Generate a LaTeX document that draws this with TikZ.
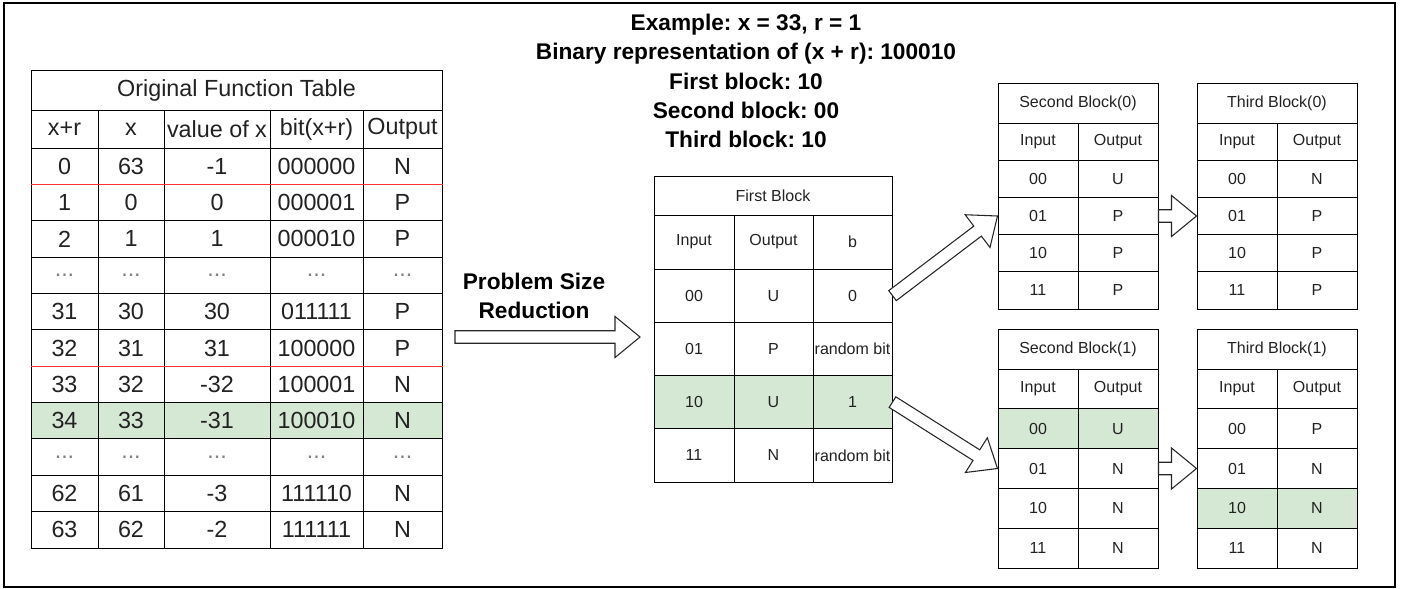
\documentclass[tikz,border=0pt]{standalone}
\usepackage{fontspec}
\setmainfont{Liberation Sans}
\usetikzlibrary{calc}
\frenchspacing

\definecolor{hlgreen}{HTML}{D5E8D4}
\definecolor{splitred}{HTML}{FF3333}
\definecolor{inktext}{HTML}{222222}

\tikzset{
  cellbox/.style={draw=black, line width=0.75pt, inner sep=0pt, text=inktext, anchor=center},
  bigcell/.style={cellbox, font=\fontsize{17.5}{20}\selectfont},
  smallcell/.style={cellbox, font=\fontsize{12}{14}\selectfont},
  fatarrowline/.style={draw=black!85, line width=0.8pt, fill=white, line join=miter},
  headline/.style={font=\fontsize{17}{21.9}\selectfont\bfseries, align=center, text=black},
  frameline/.style={draw=black, line width=1.1pt},
  splitline/.style={draw=splitred, line width=0.75pt},
}

% a table cell given by its corners (in px units): [style]{name}{x1}{y1}{x2}{y2}{text}
\newcommand{\cellnode}[7][]{%
  \node[#1, minimum width={(#5-#3)*0.75pt}, minimum height={(#6-#4)*0.75pt}]
    (#2) at ({(#3+#5)/2},{(#4+#6)/2}) {#7};}

% hollow block arrow from #1 to #2
\newcommand{\fatarrow}[2]{%
  \coordinate (fa-h) at ($(#2)!18.75pt!(#1)$);
  \draw[fatarrowline]
    ($(#1)!4.7pt!90:(#2)$) -- ($(fa-h)!4.7pt!90:(#2)$) -- ($(fa-h)!15.4pt!90:(#2)$)
    -- (#2) -- ($(fa-h)!15.4pt!-90:(#2)$) -- ($(fa-h)!4.7pt!-90:(#2)$)
    -- ($(#1)!4.7pt!-90:(#2)$) -- cycle;}

% two-column Input/Output block: {name}{x-left}{y-top}{title h}{row h}{title}{fill/in/out rows}
\newcommand{\pairtable}[7]{%
  \pgfmathsetmacro\pxm{#2+80}%
  \pgfmathsetmacro\pxr{#2+160}%
  \pgfmathsetmacro\pyt{#3+#4}%
  \pgfmathsetmacro\pyh{#3+#4+#5}%
  \cellnode[smallcell]{#1-title}{#2}{#3}{\pxr}{\pyt}{#6}
  \cellnode[smallcell]{#1-hin}{#2}{\pyt}{\pxm}{\pyh}{Input}
  \cellnode[smallcell]{#1-hout}{\pxm}{\pyt}{\pxr}{\pyh}{Output}
  \foreach \cl/\vi/\vo [count=\r] in {#7} {
    \pgfmathsetmacro\ya{\pyh+(\r-1)*#5}
    \pgfmathsetmacro\yb{\ya+#5}
    \cellnode[smallcell, fill=\cl]{#1-in\r}{#2}{\ya}{\pxm}{\yb}{\vi}
    \cellnode[smallcell, fill=\cl]{#1-out\r}{\pxm}{\ya}{\pxr}{\yb}{\vo}
  }}

\newcommand{\dd}{\textcolor{gray}{...}}

\begin{document}
\begin{tikzpicture}[x=0.75pt, y=-0.75pt]
\useasboundingbox (0,0) rectangle (1411,589);
\draw[frameline] (4,3) rectangle (1395,587);

% ---------- original function table ----------
\cellnode[bigcell]{orig-title}{31}{70}{442}{110}{Original Function Table}
\foreach \t/\xa/\xb [count=\c] in {x+r/31/98, x/98/164, value of x/164/270, bit(x+r)/270/363, Output/363/442}
  \cellnode[bigcell]{orig-h\c}{\xa}{110}{\xb}{148}{\t};
\foreach \cl/\va/\vb/\vc/\vd/\ve [count=\r] in {
    white/0/63/-1/000000/N,
    white/1/0/0/000001/P,
    white/2/1/1/000010/P,
    white/\dd/\dd/\dd/\dd/\dd,
    white/31/30/30/011111/P,
    white/32/31/31/100000/P,
    white/33/32/-32/100001/N,
    hlgreen/34/33/-31/100010/N,
    white/\dd/\dd/\dd/\dd/\dd,
    white/62/61/-3/111110/N,
    white/63/62/-2/111111/N} {
  \pgfmathsetmacro\ya{148+(\r-1)*36.364}
  \pgfmathsetmacro\yb{\ya+36.364}
  \cellnode[bigcell, fill=\cl]{orig-r\r-c1}{31}{\ya}{98}{\yb}{\va}
  \cellnode[bigcell, fill=\cl]{orig-r\r-c2}{98}{\ya}{164}{\yb}{\vb}
  \cellnode[bigcell, fill=\cl]{orig-r\r-c3}{164}{\ya}{270}{\yb}{\vc}
  \cellnode[bigcell, fill=\cl]{orig-r\r-c4}{270}{\ya}{363}{\yb}{\vd}
  \cellnode[bigcell, fill=\cl]{orig-r\r-c5}{363}{\ya}{442}{\yb}{\ve}
}
\draw[splitline] (orig-r1-c1.south west) -- (orig-r1-c5.south east);
\draw[splitline] (orig-r6-c1.south west) -- (orig-r6-c5.south east);

% ---------- heading ----------
\node[headline] (heading) at (746,81)
  {Example: x = 33, r = 1\\Binary representation of (x + r): 100010\\First block: 10\\Second block: 00\\Third block: 10};

% ---------- problem size reduction ----------
\node[headline] (psr-label) at (534,296) {Problem Size\\Reduction};
\coordinate (psr-start) at (455,337);
\coordinate (psr-end) at (640,337);
\fatarrow{psr-start}{psr-end}

% ---------- first block ----------
\cellnode[smallcell]{fb-title}{654}{176}{892}{215}{First Block}
\cellnode[smallcell]{fb-hin}{654}{215}{734}{269}{Input}
\cellnode[smallcell]{fb-hout}{734}{215}{813}{269}{Output}
\cellnode[smallcell]{fb-hb}{813}{215}{892}{269}{b}
\foreach \cl/\vi/\vo/\vb [count=\r] in {
    white/00/U/0,
    white/01/P/random bit,
    hlgreen/10/U/1,
    white/11/N/random bit} {
  \pgfmathsetmacro\ya{269+(\r-1)*53.25}
  \pgfmathsetmacro\yb{\ya+53.25}
  \cellnode[smallcell, fill=\cl]{fb-in\r}{654}{\ya}{734}{\yb}{\vi}
  \cellnode[smallcell, fill=\cl]{fb-out\r}{734}{\ya}{813}{\yb}{\vo}
  \cellnode[smallcell, fill=\cl]{fb-b\r}{813}{\ya}{892}{\yb}{\vb}
}

% ---------- second and third blocks ----------
\pairtable{s0}{998}{83}{40}{37.2}{Second Block(0)}{white/00/U, white/01/P, white/10/P, white/11/P}
\pairtable{t0}{1197}{83}{40}{37.2}{Third Block(0)}{white/00/N, white/01/P, white/10/P, white/11/P}
\pairtable{s1}{998}{329}{40}{39.8}{Second Block(1)}{hlgreen/00/U, white/01/N, white/10/N, white/11/N}
\pairtable{t1}{1197}{329}{40}{39.8}{Third Block(1)}{white/00/P, white/01/N, hlgreen/10/N, white/11/N}

% ---------- connectors ----------
\fatarrow{fb-b1.east}{s0-in2.west}
\fatarrow{fb-b3.east}{s1-in2.west}
\fatarrow{s0-out2.east}{t0-in2.west}
\fatarrow{s1-out2.east}{t1-in2.west}
\end{tikzpicture}
\end{document}
